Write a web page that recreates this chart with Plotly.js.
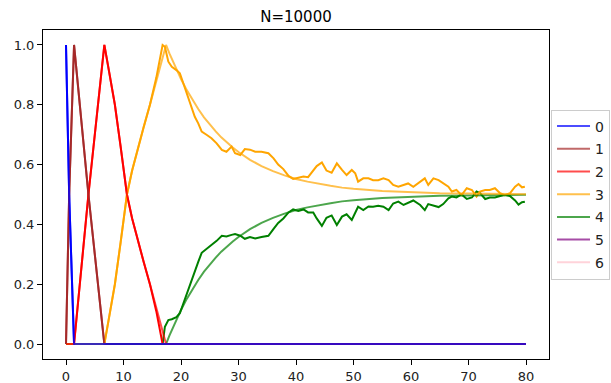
<!DOCTYPE html>
<html>
<head>
<meta charset="utf-8">
<script src="https://cdn.plot.ly/plotly-3.0.1.min.js"></script>
<style>html,body{margin:0;padding:0;background:#fff;}#chart{width:611px;height:383px;}</style>
</head>
<body>
<div id="chart"></div>
<script>
// ---- data ----
var stateNames = ['0', '1', '2', '3', '4', '5', '6'];
var stateColors = ['0,0,255', '165,42,42', '255,0,0', '255,165,0', '0,128,0', '128,0,128', '255,192,203'];

// smooth (theory) curves
var tTheory = [0, 0.55, 1.4, 3.9, 6.67, 7.5, 8.5, 9.5, 10.6, 11.5, 12.5, 13.5, 14.6, 15.7, 16.6, 17.4,
  18, 19, 20, 21, 22, 23, 24, 25, 26, 27, 28, 29, 30, 32, 34, 36, 38, 40, 42, 44, 46, 48, 50, 55, 60, 65, 70, 75, 80];
var theory0 = [1, 0.5, 0, 0, 0, 0, 0, 0, 0, 0, 0, 0, 0, 0, 0, 0,
  0, 0, 0, 0, 0, 0, 0, 0, 0, 0, 0, 0, 0, 0, 0, 0, 0, 0, 0, 0, 0, 0, 0, 0, 0, 0, 0, 0, 0];
var theory1 = [0, 0.5, 1, 0.5, 0, 0, 0, 0, 0, 0, 0, 0, 0, 0, 0, 0,
  0, 0, 0, 0, 0, 0, 0, 0, 0, 0, 0, 0, 0, 0, 0, 0, 0, 0, 0, 0, 0, 0, 0, 0, 0, 0, 0, 0, 0];
var theory2 = [0, 0, 0, 0.5, 1, 0.91, 0.8, 0.66, 0.5, 0.42, 0.345, 0.275, 0.2, 0.12, 0.05, 0,
  0, 0, 0, 0, 0, 0, 0, 0, 0, 0, 0, 0, 0, 0, 0, 0, 0, 0, 0, 0, 0, 0, 0, 0, 0, 0, 0, 0, 0];
var theory3 = [0, 0, 0, 0, 0, 0.09, 0.2, 0.34, 0.5, 0.58, 0.655, 0.725, 0.8, 0.88, 0.95, 1.0,
  0.971, 0.926, 0.886, 0.849, 0.816, 0.786, 0.758, 0.734, 0.712, 0.691, 0.673, 0.657, 0.642, 0.616,
  0.595, 0.578, 0.564, 0.552, 0.543, 0.535, 0.529, 0.523, 0.519, 0.512, 0.507, 0.504, 0.503, 0.502, 0.501];
var theory4 = [0, 0, 0, 0, 0, 0, 0, 0, 0, 0, 0, 0, 0, 0, 0, 0,
  0.029, 0.074, 0.114, 0.151, 0.184, 0.214, 0.242, 0.266, 0.288, 0.309, 0.327, 0.343, 0.358, 0.384,
  0.405, 0.422, 0.436, 0.448, 0.457, 0.465, 0.471, 0.477, 0.481, 0.488, 0.493, 0.496, 0.497, 0.498, 0.499];
var theory5 = [0, 0, 0, 0, 0, 0, 0, 0, 0, 0, 0, 0, 0, 0, 0, 0,
  0, 0, 0, 0, 0, 0, 0, 0, 0, 0, 0, 0, 0, 0, 0, 0, 0, 0, 0, 0, 0, 0, 0, 0, 0, 0, 0, 0, 0];
var theory6 = [0, 0, 0, 0, 0, 0, 0, 0, 0, 0, 0, 0, 0, 0, 0, 0,
  0, 0, 0, 0, 0, 0, 0, 0, 0, 0, 0, 0, 0, 0, 0, 0, 0, 0, 0, 0, 0, 0, 0, 0, 0, 0, 0, 0, 0];

// noisy (simulated) curves
var tSim = [0, 0.55, 1.4, 3.9, 6.67, 7.5, 8.5, 9.5, 10.6, 11.5, 12.5, 13.5, 14.6, 15.7, 16.8,
  17.2, 17.8, 18.4, 19.2, 19.8, 20.4, 21.0, 21.9, 22.4, 23.0, 23.6, 24.5, 25.3, 26.2, 27.1, 27.9,
  28.8, 29.4, 30.3, 31.1, 32.0, 32.9, 34.0, 35.2, 36.1, 36.9, 37.8, 38.7, 39.5, 40.4, 41.3, 42.1,
  43.0, 43.6, 44.5, 45.3, 46.2, 47.1, 48.0, 48.8, 49.7, 50.3, 50.8, 51.7, 52.6, 53.4, 54.3, 55.2,
  56.1, 56.9, 57.8, 58.7, 59.5, 60.4, 61.6, 62.4, 63.0, 63.9, 64.8, 65.6, 66.5, 67.1, 67.9, 68.8,
  69.7, 70.6, 71.4, 72.0, 72.9, 73.7, 74.6, 75.5, 76.3, 77.2, 78.1, 78.7, 79.3, 79.8];
var sim0 = [1, 0.5, 0, 0, 0, 0, 0, 0, 0, 0, 0, 0, 0, 0, 0,
  0, 0, 0, 0, 0, 0, 0, 0, 0, 0, 0, 0, 0, 0, 0, 0, 0, 0, 0, 0, 0, 0, 0, 0, 0, 0, 0, 0, 0, 0, 0, 0,
  0, 0, 0, 0, 0, 0, 0, 0, 0, 0, 0, 0, 0, 0, 0, 0, 0, 0, 0, 0, 0, 0, 0, 0, 0, 0, 0, 0, 0, 0, 0, 0,
  0, 0, 0, 0, 0, 0, 0, 0, 0, 0, 0, 0, 0, 0];
var sim1 = [0, 0.5, 1, 0.5, 0, 0, 0, 0, 0, 0, 0, 0, 0, 0, 0,
  0, 0, 0, 0, 0, 0, 0, 0, 0, 0, 0, 0, 0, 0, 0, 0, 0, 0, 0, 0, 0, 0, 0, 0, 0, 0, 0, 0, 0, 0, 0, 0,
  0, 0, 0, 0, 0, 0, 0, 0, 0, 0, 0, 0, 0, 0, 0, 0, 0, 0, 0, 0, 0, 0, 0, 0, 0, 0, 0, 0, 0, 0, 0, 0,
  0, 0, 0, 0, 0, 0, 0, 0, 0, 0, 0, 0, 0, 0];
var sim2 = [0, 0, 0, 0.5, 1, 0.91, 0.8, 0.66, 0.5, 0.42, 0.345, 0.275, 0.2, 0.11, 0,
  0, 0, 0, 0, 0, 0, 0, 0, 0, 0, 0, 0, 0, 0, 0, 0, 0, 0, 0, 0, 0, 0, 0, 0, 0, 0, 0, 0, 0, 0, 0, 0,
  0, 0, 0, 0, 0, 0, 0, 0, 0, 0, 0, 0, 0, 0, 0, 0, 0, 0, 0, 0, 0, 0, 0, 0, 0, 0, 0, 0, 0, 0, 0, 0,
  0, 0, 0, 0, 0, 0, 0, 0, 0, 0, 0, 0, 0, 0];
var sim3 = [0, 0, 0, 0, 0, 0.09, 0.2, 0.34, 0.5, 0.58, 0.655, 0.725, 0.8, 0.89, 1.0,
  0.994, 0.944, 0.927, 0.916, 0.905, 0.872, 0.838, 0.794, 0.76, 0.738, 0.71, 0.699, 0.688, 0.671, 0.649, 0.643,
  0.66, 0.638, 0.632, 0.652, 0.65, 0.643, 0.643, 0.638, 0.621, 0.6, 0.585, 0.562, 0.552, 0.556, 0.56, 0.558,
  0.58, 0.595, 0.607, 0.58, 0.573, 0.604, 0.582, 0.565, 0.582, 0.571, 0.543, 0.554, 0.554, 0.548, 0.548, 0.554,
  0.548, 0.532, 0.526, 0.532, 0.537, 0.526, 0.543, 0.554, 0.532, 0.554, 0.548, 0.537, 0.526, 0.51, 0.515, 0.498,
  0.521, 0.515, 0.493, 0.51, 0.515, 0.515, 0.521, 0.504, 0.498, 0.504, 0.526, 0.535, 0.524, 0.526];
var sim4 = [0, 0, 0, 0, 0, 0, 0, 0, 0, 0, 0, 0, 0, 0, 0,
  0.058, 0.08, 0.083, 0.09, 0.103, 0.136, 0.17, 0.215, 0.245, 0.275, 0.305, 0.318, 0.33, 0.345, 0.362, 0.36,
  0.365, 0.368, 0.362, 0.352, 0.358, 0.353, 0.358, 0.362, 0.385, 0.405, 0.42, 0.44, 0.45, 0.445, 0.45, 0.44,
  0.44, 0.42, 0.395, 0.422, 0.43, 0.398, 0.426, 0.434, 0.415, 0.437, 0.459, 0.448, 0.46, 0.459, 0.462, 0.459,
  0.448, 0.47, 0.476, 0.465, 0.472, 0.48, 0.465, 0.448, 0.468, 0.462, 0.458, 0.468, 0.487, 0.493, 0.49, 0.5,
  0.485, 0.49, 0.51, 0.505, 0.485, 0.49, 0.49, 0.495, 0.498, 0.495, 0.48, 0.466, 0.474, 0.476];

var xTicks = [0, 10, 20, 30, 40, 50, 60, 70, 80];
var yTicks = [0, 0.2, 0.4, 0.6, 0.8, 1.0];
var yTickText = ['0.0', '0.2', '0.4', '0.6', '0.8', '1.0'];
var chartTitle = 'N=10000';

// ---- build traces ----
var theoryY = [theory0, theory1, theory2, theory3, theory4, theory5, theory6];
var simY = [sim0, sim1, sim2, sim3, sim4];
var traces = [];
for (var i = simY.length - 1; i >= 0; i--) {
  traces.push({
    x: tSim, y: simY[i], type: 'scatter', mode: 'lines',
    line: {color: 'rgb(' + stateColors[i] + ')', width: 2},
    showlegend: false, hoverinfo: 'skip'
  });
}
for (var j = theoryY.length - 1; j >= 0; j--) {
  traces.push({
    x: tTheory, y: theoryY[j], type: 'scatter', mode: 'lines',
    name: stateNames[j], legendgroup: 'g' + j, legendrank: j,
    line: {color: 'rgba(' + stateColors[j] + ',0.7)', width: 2}
  });
}

var axisFont = {family: 'DejaVu Sans', size: 13, color: '#222'};
var layout = {
  width: 611, height: 383,
  margin: {l: 43, r: 62, t: 30, b: 24, autoexpand: false},
  paper_bgcolor: '#fff', plot_bgcolor: '#fff',
  title: {text: chartTitle, font: {family: 'DejaVu Sans', size: 15, color: '#000'},
          x: 0.5, xref: 'paper', y: 1 - 17 / 383, yref: 'container', yanchor: 'middle'},
  xaxis: {range: [-4, 84], tickvals: xTicks, ticks: 'outside', ticklen: 5, tickcolor: '#000',
          showline: true, mirror: true, linecolor: '#000', linewidth: 1,
          showgrid: false, zeroline: false, tickfont: axisFont},
  yaxis: {range: [-0.05, 1.05], tickvals: yTicks, ticktext: yTickText, ticks: 'outside', ticklen: 5, tickcolor: '#000',
          showline: true, mirror: true, linecolor: '#000', linewidth: 1,
          showgrid: false, zeroline: false, tickfont: axisFont},
  legend: {x: 1.004, xanchor: 'left', y: 0.5, yanchor: 'middle',
           bgcolor: 'rgba(255,255,255,0.8)', bordercolor: '#cccccc', borderwidth: 1,
           font: {family: 'DejaVu Sans', size: 14, color: '#222'},
           traceorder: 'grouped', tracegroupgap: 1.5, itemwidth: 33},
  showlegend: true
};

Plotly.newPlot('chart', traces, layout, {displayModeBar: false, staticPlot: true});
</script>
</body>
</html>
